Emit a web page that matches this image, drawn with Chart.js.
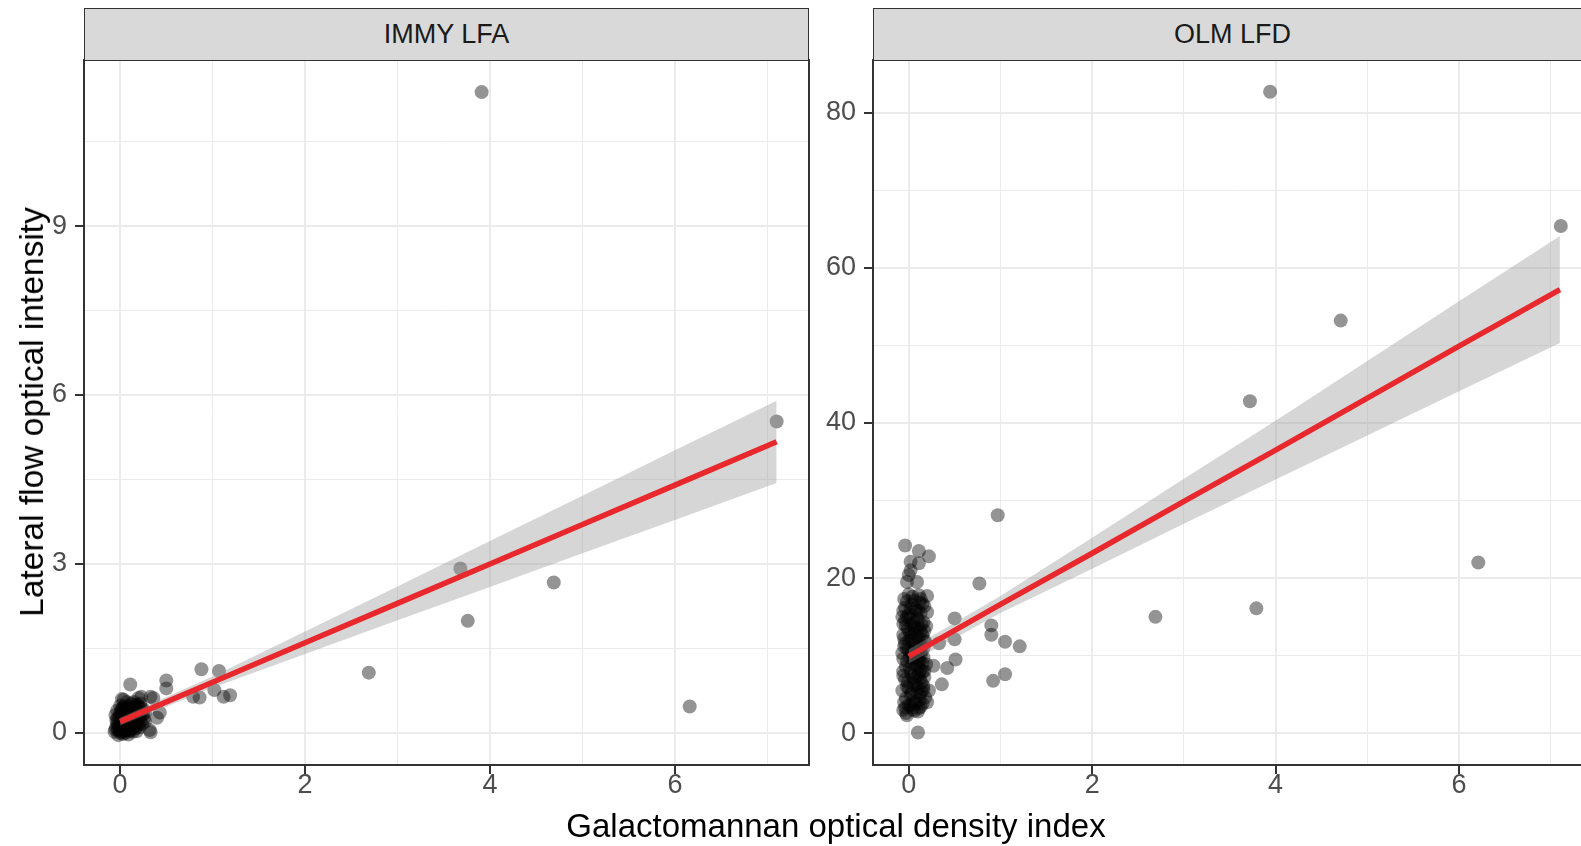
<!DOCTYPE html>
<html lang="en">
<head>
<meta charset="UTF-8">
<title>Lateral flow optical intensity vs galactomannan ODI</title>
<script src="https://cdn.jsdelivr.net/npm/chart.js@4.4.0/dist/chart.umd.min.js"></script>
<style>
  html, body { margin: 0; padding: 0; background: #fff; overflow: hidden; width: 1581px; height: 846px; }
  body { position: relative; font-family: "Liberation Sans", Arial, sans-serif; }
  canvas { position: absolute; top: 0; }
  .strip { position: absolute; top: 8px; height: 52px; box-sizing: border-box; background: #D9D9D9;
           border: 1.5px solid #333; border-bottom: none; color: #1A1A1A; font-size: 27px;
           line-height: 50px; text-align: center; }
  #ytitle { position: absolute; left: 32px; top: 412px; font-size: 33.5px; white-space: nowrap; color: #000;
            transform: translate(-50%, -50%) rotate(-90deg); }
  #xtitle { position: absolute; left: 836px; top: 826px; font-size: 33px; white-space: nowrap; color: #000;
            transform: translate(-50%, -50%); }
</style>
</head>
<body>

<canvas id="immy" width="825" height="846" style="left:0px"></canvas>
<canvas id="olm" width="825" height="846" style="left:789px"></canvas>
<div class="strip" style="left:84px; width:725px;">IMMY LFA</div>
<div class="strip" style="left:873px; width:719px;">OLM LFD</div>
<div id="ytitle">Lateral flow optical intensity</div>
<div id="xtitle">Galactomannan optical density index</div>

<script>
// axis breaks
const xTicks = [0, 2, 4, 6];
const xMinor = [1, 3, 5, 7];
const immyTicks = [0, 3, 6, 9];
const immyMinor = [1.5, 4.5, 7.5, 10.5];
const olmTicks = [0, 20, 40, 60, 80];
const olmMinor = [10, 30, 50, 70];

// IMMY LFA points
const immyX = [3.91, 7.10, 6.16, 4.69, 3.76, 3.68, 2.69,
  0.88, 1.07, 1.02, 0.86, 1.12, 1.19, 0.79, 0.50, 0.50, 0.43, 0.40, 0.33, 0.32, 0.33, 0.36,
  0.11, 0.23, 0.20, 0.04, 0.02, 0.27,
  -0.06, -0.04, -0.02, 0.00, 0.01, 0.03, 0.05, 0.07, 0.02, -0.03,
  0.06, 0.09, 0.10, 0.12, 0.14, 0.04, -0.01, 0.08, 0.11, 0.15,
  0.17, 0.19, 0.13, 0.06, 0.01, -0.05, 0.10, 0.16, 0.20, 0.22,
  0.24, 0.18, 0.09, -0.02, 0.03, 0.12, 0.19, 0.25, 0.07, 0.00,
  0.05, 0.08, 0.02, 0.14, 0.11, -0.04, 0.06, 0.13, 0.16, 0.04,
  0.21, 0.23, 0.27, 0.26, 0.09, 0.00, 0.07, 0.15, -0.03, 0.18,
  0.02, 0.05, 0.10, 0.12, 0.08, 0.03, -0.01, 0.17, 0.20, 0.22,
  0.00, 0.03, 0.06, 0.09, 0.12, 0.15, 0.18, 0.21, 0.01, 0.04,
  0.07, 0.10, 0.13, 0.16, 0.19, 0.22, 0.25, -0.02, -0.05, 0.02,
  0.05, 0.08, 0.11, 0.14, 0.17, 0.20, 0.06, 0.03, 0.09, 0.12,
  0.15, 0.18, 0.01, 0.04, 0.07, 0.10, 0.13, 0.16, 0.00, -0.03];
const immyY = [11.38, 5.53, 0.47, 2.67, 1.99, 2.92, 1.07,
  1.13, 1.10, 0.76, 0.63, 0.64, 0.67, 0.64, 0.93, 0.79, 0.36, 0.27, 0.01, 0.05, 0.64, 0.62,
  0.86, 0.64, 0.62, 0.59, 0.60, 0.20,
  0.02, 0.10, 0.05, 0.00, 0.12, 0.08, 0.03, 0.15, 0.20, 0.18,
  0.25, 0.10, 0.22, 0.05, 0.18, 0.30, 0.28, 0.35, 0.32, 0.28,
  0.12, 0.22, 0.40, 0.42, 0.38, 0.32, 0.47, 0.45, 0.38, 0.30,
  0.16, 0.03, -0.03, -0.04, 0.45, 0.52, 0.50, 0.42, 0.05, 0.15,
  0.17, 0.24, 0.33, 0.09, 0.14, 0.22, 0.08, 0.26, 0.35, 0.22,
  0.10, 0.44, 0.36, 0.25, 0.40, 0.48, 0.55, 0.55, 0.40, 0.30,
  0.02, 0.12, 0.03, 0.33, 0.18, 0.27, 0.09, 0.20, 0.46, 0.52,
  0.05, 0.14, 0.20, 0.28, 0.21, 0.14, 0.40, 0.35, 0.25, 0.36,
  0.30, 0.38, 0.45, 0.50, 0.27, 0.20, 0.33, 0.12, 0.06, 0.42,
  0.48, 0.44, 0.08, 0.02, 0.08, 0.15, 0.00, -0.02, 0.13, 0.16,
  0.23, 0.17, 0.07, 0.04, 0.10, 0.30, 0.35, 0.40, 0.34, 0.26];

// OLM LFD points
const olmX = [3.94, 7.11, 4.71, 3.72, 6.21, 3.79, 2.69,
  0.97, 0.77, 0.50, 0.50, 0.51, 0.42, 0.36, 0.27, 0.33, 0.90, 0.90, 1.05, 1.21, 1.05, 0.92,
  0.10, 0.22, 0.20, 0.11, -0.02,
  -0.04, 0.11, 0.22, 0.02, 0.02, 0.11, -0.02, 0.09, 0.00, 0.20,
  -0.06, 0.02, 0.10, 0.15, -0.03, 0.05, 0.12, 0.18, -0.07, 0.00,
  0.08, 0.14, -0.04, 0.04, 0.11, 0.17, -0.06, 0.01, 0.07, 0.13,
  0.19, -0.02, 0.05, 0.10, 0.16, -0.07, 0.00, 0.08, 0.14, -0.04,
  0.03, 0.11, 0.17, -0.06, 0.01, 0.07, 0.13, -0.03, 0.05, 0.10,
  0.16, -0.07, 0.00, 0.08, -0.04, 0.03, 0.12, 0.17, -0.05, 0.04,
  0.11, 0.20, 0.02, 0.09, -0.01, 0.06, 0.12, 0.03, -0.05, 0.09,
  0.14, 0.06, 0.01, 0.13, -0.02, 0.07, 0.18, 0.19, 0.15, 0.04,
  -0.03, 0.12, 0.00, 0.07, -0.06, 0.10, 0.16,
  0.00, 0.07, 0.13, -0.05, 0.03, 0.10, 0.16, -0.02, 0.05, 0.12,
  -0.06, 0.02, 0.09, 0.17, -0.03, 0.04, 0.11, 0.15, -0.06, 0.01,
  0.08, 0.13, -0.02, 0.05, 0.12, 0.16, -0.05, 0.02, 0.09, 0.15,
  -0.01, 0.06, 0.11, 0.17, -0.04, 0.03, 0.09, 0.14, -0.06, 0.02,
  0.10, 0.15, -0.02, 0.06, 0.13, 0.00, 0.08, 0.14, -0.04, 0.06];
const olmY = [82.7, 65.4, 53.2, 42.8, 22.0, 16.1, 15.0,
  28.1, 19.3, 14.8, 12.1, 9.5, 8.4, 6.3, 8.7, 11.6, 13.9, 12.7, 11.8, 11.2, 7.6, 6.75,
  0.1, 5.5, 4.0, 3.2, 2.3,
  24.2, 23.5, 22.8, 22.1, 21.0, 21.9, 19.5, 19.5, 20.4, 15.6,
  3.0, 3.5, 2.8, 3.8, 4.5, 4.2, 5.0, 4.6, 5.5, 5.8,
  6.2, 6.5, 6.9, 7.3, 7.6, 7.2, 8.0, 8.4, 8.8, 8.2,
  8.9, 9.3, 9.6, 10.0, 9.8, 10.3, 10.7, 11.0, 11.3, 11.6,
  12.0, 12.3, 12.0, 12.7, 13.0, 13.4, 13.1, 13.8, 14.2, 14.6,
  14.3, 15.0, 15.3, 15.7, 16.2, 16.6, 16.9, 16.4, 17.3, 17.6,
  17.8, 17.7, 4.9, 5.3, 6.6, 7.0, 9.1, 10.4, 11.2, 12.6,
  10.6, 13.7, 14.8, 15.5, 17.0, 16.0, 11.7, 13.8, 7.9, 3.1,
  2.6, 4.3, 11.9, 9.9, 14.1, 8.5, 5.6,
  3.6, 4.0, 3.4, 4.0, 5.2, 5.9, 6.1, 6.0, 6.4, 7.0,
  7.4, 7.8, 7.4, 8.0, 8.6, 9.0, 9.4, 9.0, 9.6, 9.8,
  10.2, 10.0, 10.9, 11.4, 11.0, 11.0, 12.2, 12.4, 11.8, 12.6,
  13.4, 12.9, 13.6, 13.2, 14.6, 14.0, 14.9, 14.0, 15.8, 16.1,
  15.8, 16.7, 15.0, 17.1, 17.3, 17.9, 3.8, 5.4, 3.3, 2.9];

// fitted line and confidence band, read at these x positions
const fitX = [0, 1, 2, 3, 4, 5, 6, 7.1];
const immyFit = [0.20, 0.90, 1.60, 2.30, 3.00, 3.70, 4.40, 5.17];
const immyHigh = [0.27, 1.00, 1.80, 2.60, 3.41, 4.21, 5.02, 5.90];
const immyLow = [0.13, 0.80, 1.40, 2.00, 2.59, 3.19, 3.78, 4.44];
const olmFit = [9.9, 16.6, 23.2, 29.9, 36.5, 43.2, 49.9, 57.2];
const olmHigh = [10.8, 17.7, 25.2, 32.8, 40.3, 48.0, 55.7, 64.1];
const olmLow = [9.0, 15.5, 21.2, 27.0, 32.7, 38.4, 44.1, 50.3];

const font = { family: '"Liberation Sans", Arial, sans-serif', size: 27 };

// ggplot style panel border drawn over everything
const panelBorder = {
  id: 'panelBorder',
  afterDraw(chart) {
    const a = chart.chartArea, c = chart.ctx;
    c.save();
    c.strokeStyle = '#333333';
    c.lineWidth = 2;
    c.strokeRect(a.left, a.top, a.right - a.left, a.bottom - a.top);
    c.restore();
  }
};

function pts(xs, ys) {
  return xs.map((x, i) => ({ x: x, y: ys[i] }));
}

function axis(major, minor, min, max, isX) {
  const all = major.concat(minor).sort((a, b) => a - b);
  return {
    type: 'linear',
    min: min,
    max: max,
    afterBuildTicks: s => { s.ticks = all.map(v => ({ value: v })); },
    afterFit: s => { if (isX) s.height = 81; else s.width = 84; },
    border: { display: false },
    grid: {
      color: '#EBEBEB',
      lineWidth: c => major.includes(c.tick.value) ? 2 : 1,
      drawTicks: true,
      tickLength: 9,
      tickWidth: 2,
      tickColor: c => major.includes(c.tick.value) ? '#333333' : 'rgba(0,0,0,0)'
    },
    ticks: {
      autoSkip: false,
      maxRotation: 0,
      padding: isX ? -5 : 8,
      color: '#4D4D4D',
      font: font,
      callback: v => major.includes(v) ? String(v) : ''
    }
  };
}

function makePanel(id, xs, ys, fit, low, high, yMajor, yMinor, yMin, yMax, padRight) {
  new Chart(document.getElementById(id), {
    type: 'scatter',
    data: {
      datasets: [
        { data: pts(fitX, fit), showLine: true, borderColor: '#E8282C', borderWidth: 5.5,
          pointRadius: 0, order: 0 },
        { data: pts(fitX, high), showLine: true, borderWidth: 0, pointRadius: 0,
          backgroundColor: 'rgba(153,153,153,0.4)', fill: '+1', order: 1 },
        { data: pts(fitX, low), showLine: true, borderWidth: 0, pointRadius: 0, fill: false, order: 1 },
        { data: pts(xs, ys), pointRadius: 7, pointBorderWidth: 0,
          backgroundColor: 'rgba(0,0,0,0.42)', order: 2 }
      ]
    },
    options: {
      responsive: false,
      animation: false,
      layout: { padding: { top: 60, right: padRight, left: 0, bottom: 0 } },
      plugins: { legend: { display: false }, tooltip: { enabled: false } },
      scales: {
        x: axis(xTicks, xMinor, -0.39, 7.45, true),
        y: axis(yMajor, yMinor, yMin, yMax, false)
      }
    },
    plugins: [panelBorder]
  });
}

makePanel('immy', immyX, immyY, immyFit, immyLow, immyHigh, immyTicks, immyMinor, -0.57, 11.95, 16);
makePanel('olm', olmX, olmY, olmFit, olmLow, olmHigh, olmTicks, olmMinor, -4.1, 86.8, 22);
</script>
</body>
</html>
